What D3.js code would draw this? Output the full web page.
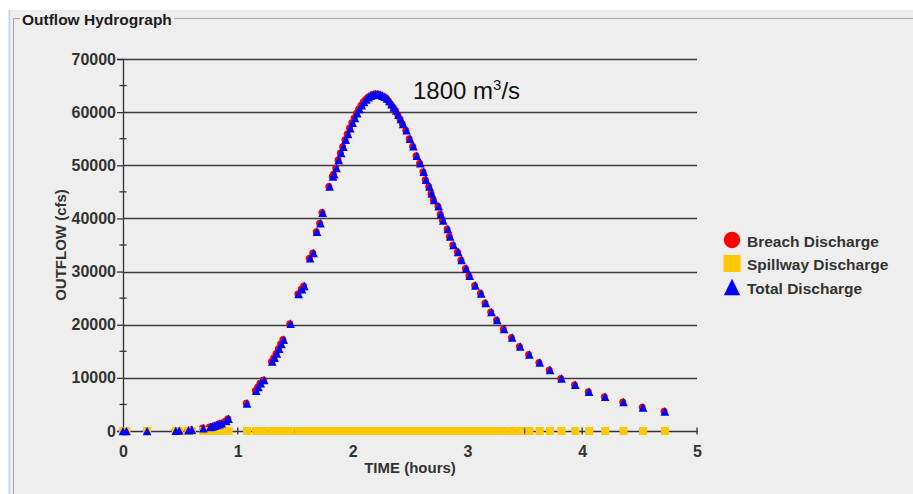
<!doctype html>
<html lang="en">
<head>
<meta charset="UTF-8">
<title>Outflow Hydrograph</title>
<style>
  body { margin: 0; background: #fff; }
  svg { display: block; }
  text { font-family: "Liberation Sans", Arial, sans-serif; }
</style>
</head>
<body>
<div id="chart"></div>
<script src="https://d3js.org/d3.v7.min.js"></script>
<script>
// time (hours) of each output step
const times = [0.00, 0.03, 0.21, 0.46, 0.49, 0.57, 0.60, 0.70, 0.76, 0.78, 0.80, 0.82, 0.84, 0.86, 0.90, 0.92,
  1.08, 1.16, 1.18, 1.20, 1.23, 1.30, 1.32, 1.34, 1.36, 1.38, 1.40, 1.46, 1.53, 1.56, 1.58, 1.63, 1.66,
  1.69, 1.72, 1.74, 1.80, 1.83, 1.84, 1.86, 1.88, 1.90, 1.92, 1.94, 1.96, 1.98, 2.00, 2.02, 2.04, 2.06,
  2.08, 2.10, 2.12, 2.14, 2.16, 2.18, 2.20, 2.22, 2.24, 2.26, 2.28, 2.30, 2.32, 2.34, 2.36, 2.38, 2.40,
  2.42, 2.44, 2.47, 2.50, 2.53, 2.56, 2.59, 2.62, 2.64, 2.67, 2.69, 2.71, 2.75, 2.77, 2.79, 2.83, 2.85,
  2.88, 2.92, 2.95, 2.99, 3.02, 3.07, 3.12, 3.16, 3.21, 3.26, 3.32, 3.39, 3.46, 3.54, 3.63, 3.72, 3.82,
  3.94, 4.06, 4.20, 4.36, 4.53, 4.72]

// breach discharge (cfs)
const breach = [0, 0, 0, 50, 80, 150, 250, 550, 750, 850, 1000, 1150, 1300, 1450, 1900, 2300,
  5200, 7600, 8300, 9000, 9600, 13100, 13800, 14600, 15500, 16400, 17200, 20200, 25800, 26700, 27300, 32500, 33500,
  37500, 39100, 41100, 46000, 47900, 48300, 49500, 51000, 52300, 53500, 54800, 55900, 57000, 58000, 58900, 59800, 60600,
  61300, 61900, 62400, 62800, 63100, 63300, 63400, 63400, 63300, 63100, 62900, 62600, 62100, 61500, 60900, 60300, 59500,
  58700, 57800, 56600, 55000, 53600, 51800, 50400, 48800, 47300, 46000, 44700, 43500, 42300, 40800, 39600, 38000, 36600,
  35000, 33700, 32200, 30600, 29200, 27400, 25900, 24100, 22400, 20900, 19200, 17600, 15900, 14400, 12900, 11500, 9900,
  8700, 7400, 6450, 5450, 4450, 3700]

// spillway discharge (cfs) - spillway never flows
const spillway = [0, 0, 0, 0, 0, 0, 0, 0, 0, 0, 0, 0, 0, 0, 0, 0,
  0, 0, 0, 0, 0, 0, 0, 0, 0, 0, 0, 0, 0, 0, 0, 0, 0,
  0, 0, 0, 0, 0, 0, 0, 0, 0, 0, 0, 0, 0, 0, 0, 0, 0,
  0, 0, 0, 0, 0, 0, 0, 0, 0, 0, 0, 0, 0, 0, 0, 0, 0,
  0, 0, 0, 0, 0, 0, 0, 0, 0, 0, 0, 0, 0, 0, 0, 0, 0,
  0, 0, 0, 0, 0, 0, 0, 0, 0, 0, 0, 0, 0, 0, 0, 0, 0,
  0, 0, 0, 0, 0, 0, 0]

// total = breach + spillway
const total = breach.map((d, i) => d + spillway[i])

const yTicks = [0, 10000, 20000, 30000, 40000, 50000, 60000, 70000]
const xTicks = [0, 1, 2, 3, 4, 5]
const seriesNames = ['Breach Discharge', 'Spillway Discharge', 'Total Discharge']

const width = 913
const height = 494
const margin = {left: 123, right: 216, top: 59, bottom: 63}

const svg = d3.select('#chart').append('svg')
  .attr('width', width)
  .attr('height', height)

// panel background + titled border
svg.append('rect').attr('width', width).attr('height', height).attr('fill', '#fff')
svg.append('rect').attr('x', 11).attr('y', 10).attr('width', width - 11).attr('height', height - 10).attr('fill', '#eeeeee')
svg.append('line').attr('x1', 9.5).attr('x2', 9.5).attr('y1', 10).attr('y2', height)
  .attr('stroke', '#c4d3e6').attr('stroke-width', 2)
svg.append('path')
  .attr('d', `M20,18.5 H13.5 V${height} M174,18.5 H${width}`)
  .attr('fill', 'none').attr('stroke', '#a8a8a8')
svg.append('text').attr('x', 22).attr('y', 25)
  .attr('font-size', 15.5).attr('font-weight', 'bold').attr('fill', '#1c1c1c')
  .text('Outflow Hydrograph')

const x = d3.scaleLinear().domain([0, 5]).range([margin.left, width - margin.right])
const y = d3.scaleLinear().domain([0, 70000]).range([height - margin.bottom, margin.top])

// grid lines
svg.append('g')
  .selectAll('line')
  .data(yTicks.filter(d => d > 0))
  .join('line')
  .attr('x1', x(0)).attr('x2', x(5))
  .attr('y1', d => Math.round(y(d)) + 0.5).attr('y2', d => Math.round(y(d)) + 0.5)
  .attr('stroke', '#3c3c3c').attr('stroke-width', 1.4)

// y axis
const yAxis = d3.axisLeft(y).tickValues(yTicks).tickSize(6).tickPadding(1).tickFormat(d3.format('d'))
const gy = svg.append('g').attr('transform', `translate(${x(0)},0)`).call(yAxis)
gy.select('.domain').attr('stroke', '#333').attr('stroke-width', 1.3)
gy.selectAll('.tick line').attr('stroke', '#333').attr('stroke-width', 1.3)
gy.selectAll('.tick text').attr('font-size', 16).attr('font-weight', 'bold').attr('fill', '#333')
  .attr('font-family', '"Liberation Sans", Arial, sans-serif')

// minor y ticks
svg.append('g')
  .selectAll('line')
  .data(d3.range(5000, 70000, 10000))
  .join('line')
  .attr('x1', x(0) - 3.5).attr('x2', x(0) + 3.5)
  .attr('y1', d => y(d)).attr('y2', d => y(d))
  .attr('stroke', '#333').attr('stroke-width', 1.3)

// x axis
const xAxis = d3.axisBottom(x).tickValues(xTicks).tickSize(0).tickPadding(15).tickFormat(d3.format('d'))
const gx = svg.append('g').attr('transform', `translate(0,${y(0)})`).call(xAxis)
gx.select('.domain').attr('stroke', '#333').attr('stroke-width', 1.3)
gx.selectAll('.tick text').attr('font-size', 16).attr('font-weight', 'bold').attr('fill', '#333')
  .attr('font-family', '"Liberation Sans", Arial, sans-serif')

svg.append('g')
  .selectAll('line')
  .data(d3.range(0.5, 5.01, 0.5))
  .join('line')
  .attr('x1', d => x(d)).attr('x2', d => x(d))
  .attr('y1', y(0) - 3.5).attr('y2', y(0) + 3.5)
  .attr('stroke', '#333').attr('stroke-width', 1.3)

// axis titles
svg.append('text')
  .attr('x', (x(0) + x(5)) / 2).attr('y', 473)
  .attr('text-anchor', 'middle')
  .attr('font-size', 15).attr('font-weight', 'bold').attr('fill', '#333')
  .text('TIME (hours)')

svg.append('text')
  .attr('transform', `translate(66,${(y(0) + y(70000)) / 2}) rotate(-90)`)
  .attr('text-anchor', 'middle')
  .attr('font-size', 15).attr('font-weight', 'bold').attr('fill', '#333')
  .text('OUTFLOW (cfs)')

// data
const tri = s => `M0,${-s}L${s},${s}L${-s},${s}Z`

svg.append('g')
  .selectAll('circle')
  .data(times)
  .join('circle')
  .attr('cx', d => x(d) - 0.8)
  .attr('cy', (d, i) => y(breach[i]))
  .attr('r', 3.5)
  .attr('fill', '#ff0000')

svg.append('g')
  .selectAll('rect')
  .data(times)
  .join('rect')
  .attr('x', d => x(d) - 4)
  .attr('y', (d, i) => y(spillway[i]) - 4)
  .attr('width', 8).attr('height', 8)
  .attr('fill', '#ffc800')

svg.append('g')
  .selectAll('path')
  .data(times)
  .join('path')
  .attr('transform', (d, i) => `translate(${x(d)},${y(total[i])})`)
  .attr('d', tri(4.3))
  .attr('fill', '#0000ff')

// legend
const legend = svg.append('g').attr('transform', 'translate(732,240)')
const item = legend.selectAll('g').data(seriesNames).join('g')
  .attr('transform', (d, i) => `translate(0,${i * 23.5})`)
item.filter((d, i) => i === 0).append('circle').attr('r', 8.2).attr('fill', '#ff0000')
item.filter((d, i) => i === 1).append('rect').attr('x', -8.5).attr('y', -8.5)
  .attr('width', 17).attr('height', 17).attr('fill', '#ffc800')
item.filter((d, i) => i === 2).append('path').attr('d', tri(8.2)).attr('fill', '#0000ff')
item.append('text').attr('x', 15).attr('y', 6.5)
  .attr('font-size', 15.5).attr('font-weight', 'bold').attr('fill', '#333')
  .text(d => d)

// annotation
const note = svg.append('text').attr('x', 413).attr('y', 99)
  .attr('font-family', 'Lato, "Open Sans", sans-serif')
  .attr('font-size', 24).attr('fill', '#111')
note.append('tspan').text('1800 m')
note.append('tspan').attr('font-size', 15).attr('dy', -9).text('3')
note.append('tspan').attr('dy', 9).text('/s')
</script>
</body>
</html>
